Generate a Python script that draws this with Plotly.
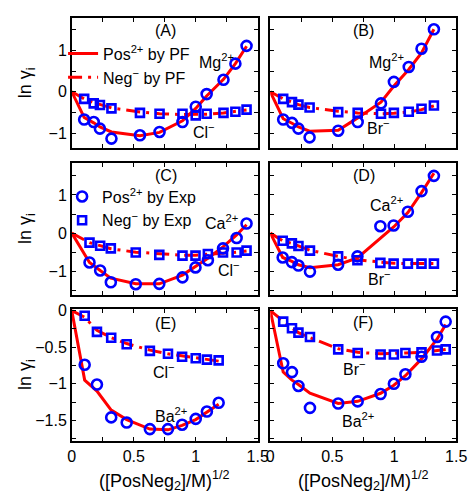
import plotly.graph_objects as go

# ---------------- data ----------------
xA = [0.1, 0.177, 0.227, 0.32, 0.55, 0.708, 0.893, 1.0, 1.088, 1.224, 1.32, 1.41]
posA = [-0.67, -0.73, -0.89, -1.13, -1.05, -0.97, -0.73, -0.36, -0.055, 0.29, 0.68, 1.11]
negA = [-0.17, -0.28, -0.32, -0.40, -0.51, -0.53, -0.53, -0.57, -0.53, -0.51, -0.48, -0.43]
pfPosA = [0, -0.62, -0.75, -0.85, -0.97, -1.06, -0.98, -0.70, -0.40, -0.10, 0.30, 0.68, 1.10]
pfNegA = [0, -0.17, -0.26, -0.31, -0.39, -0.49, -0.53, -0.55, -0.55, -0.54, -0.51, -0.48, -0.44]

xB = [0.104, 0.175, 0.227, 0.317, 0.548, 0.705, 0.893, 0.997, 1.117, 1.22, 1.32]
posB = [-0.67, -0.75, -0.89, -1.10, -0.94, -0.73, -0.28, 0.24, 0.60, 1.04, 1.51]
negB = [-0.17, -0.25, -0.31, -0.38, -0.49, -0.51, -0.53, -0.51, -0.48, -0.41, -0.33]
pfPosB = [0, -0.65, -0.76, -0.85, -0.95, -0.93, -0.63, -0.25, 0.14, 0.54, 0.94, 1.51]
pfNegB = [0, -0.17, -0.25, -0.31, -0.38, -0.47, -0.51, -0.53, -0.52, -0.49, -0.43, -0.34]

xC = [0.143, 0.229, 0.315, 0.516, 0.706, 0.893, 0.998, 1.098, 1.22, 1.33, 1.41]
posC = [-0.77, -0.98, -1.29, -1.34, -1.33, -1.16, -0.90, -0.71, -0.40, -0.13, 0.25]
negC = [-0.25, -0.33, -0.40, -0.51, -0.57, -0.59, -0.59, -0.55, -0.51, -0.51, -0.46]
pfPosC = [0, -0.77, -0.98, -1.18, -1.33, -1.33, -1.10, -0.88, -0.66, -0.36, -0.05, 0.22]
pfNegC = [0, -0.25, -0.33, -0.41, -0.50, -0.55, -0.58, -0.58, -0.56, -0.52, -0.50, -0.47]

xD = [0.1, 0.174, 0.227, 0.32, 0.547, 0.703, 0.888, 0.995, 1.11, 1.22, 1.32]
posD = [-0.64, -0.76, -0.85, -1.01, -0.83, -0.61, 0.18, 0.20, 0.56, 1.10, 1.50]
negD = [-0.20, -0.27, -0.34, -0.46, -0.61, -0.71, -0.78, -0.80, -0.80, -0.80, -0.80]
pfPosD = [0, -0.64, -0.74, -0.83, -0.91, -0.83, -0.65, -0.14, 0.16, 0.54, 1.06, 1.57]
pfNegD = [0, -0.20, -0.27, -0.34, -0.45, -0.61, -0.70, -0.76, -0.79, -0.80, -0.80, -0.80]

xE = [0.104, 0.203, 0.318, 0.443, 0.63, 0.776, 0.89, 1.0, 1.09, 1.185]
posE = [-0.74, -1.01, -1.46, -1.53, -1.62, -1.62, -1.56, -1.48, -1.38, -1.26]
negE = [-0.07, -0.29, -0.37, -0.46, -0.55, -0.59, -0.63, -0.65, -0.67, -0.68]
pfPosE = [0, -0.95, -1.10, -1.36, -1.49, -1.62, -1.63, -1.57, -1.49, -1.39, -1.28]
pfNegE = [0, -0.09, -0.27, -0.37, -0.45, -0.54, -0.59, -0.62, -0.65, -0.67, -0.69]

xF = [0.104, 0.175, 0.227, 0.32, 0.548, 0.705, 0.89, 0.997, 1.09, 1.22, 1.345, 1.415]
posF = [-0.72, -0.84, -1.03, -1.33, -1.27, -1.24, -1.14, -1.00, -0.87, -0.63, -0.36, -0.15]
negF = [-0.15, -0.24, -0.30, -0.36, -0.53, -0.58, -0.60, -0.60, -0.58, -0.57, -0.545, -0.53]
pfPosF = [0, -0.84, -0.95, -1.01, -1.13, -1.27, -1.24, -1.13, -1.02, -0.89, -0.66, -0.39, -0.19]
pfNegF = [0, -0.15, -0.24, -0.30, -0.37, -0.52, -0.57, -0.59, -0.59, -0.58, -0.57, -0.55, -0.53]

panel_labels = ["(A)", "(B)", "(C)", "(D)", "(E)", "(F)"]
xticks = [0, 0.25, 0.5, 0.75, 1.0, 1.25, 1.5]
xticktext = ["0", "", "0.5", "", "1", "", "1.5"]
yticks_top = [-1, -0.5, 0, 0.5, 1, 1.5]
yticktext_top = ["\u22121", "", "0", "", "1", ""]
yticks_mid = [-1.5, -1, -0.5, 0, 0.5, 1, 1.5]
yticktext_mid = ["", "\u22121", "", "0", "", "1", ""]
yticks_bot = [-1.75, -1.5, -1.25, -1, -0.75, -0.5, -0.25, 0]
yticktext_bot = ["", "\u22121.5", "", "\u22121", "", "\u22120.5", "", "0"]

# ------------- styling -------------
W, H = 474, 498
RED = "#ff0000"
BLUE = "#0000ff"
FONT = "Liberation Sans, Arial, Helvetica, sans-serif"
DASH = "14px,6px,3px,6px"

def px(x):
    return x / W

def py(y):
    return 1 - y / H

col_dom = [[px(70), px(262)], [px(275), px(467)]]
row_dom = [[py(143), py(11)], [py(292), py(158.5)], [py(440), py(306.5)]]
yranges = [[-1.357, 1.786], [-1.62, 1.83], [-1.78, 0.02]]

panels = [
    (xA, posA, negA, pfPosA, pfNegA),
    (xB, posB, negB, pfPosB, pfNegB),
    (xC, posC, negC, pfPosC, pfNegC),
    (xD, posD, negD, pfPosD, pfNegD),
    (xE, posE, negE, pfPosE, pfNegE),
    (xF, posF, negF, pfPosF, pfNegF),
]

fig = go.Figure()

for i, (xs, pos, neg, pfp, pfn) in enumerate(panels):
    k = "" if i == 0 else str(i + 1)
    xa, ya = "x" + k, "y" + k
    xpf = [0] + xs
    fig.add_trace(go.Scatter(x=xpf, y=pfp, mode="lines", xaxis=xa, yaxis=ya,
                             line=dict(color=RED, width=3),
                             name="Pos<sup>2+</sup> by PF", showlegend=(i == 0),
                             legend="legend"))
    fig.add_trace(go.Scatter(x=xpf, y=pfn, mode="lines", xaxis=xa, yaxis=ya,
                             line=dict(color=RED, width=3, dash=DASH),
                             name="Neg<sup>\u2212</sup> by PF", showlegend=(i == 0),
                             legend="legend"))
for i, (xs, pos, neg, pfp, pfn) in enumerate(panels):
    k = "" if i == 0 else str(i + 1)
    xa, ya = "x" + k, "y" + k
    fig.add_trace(go.Scatter(x=xs, y=pos, mode="markers", xaxis=xa, yaxis=ya,
                             marker=dict(symbol="circle-open", size=10, color=BLUE,
                                         line=dict(color=BLUE, width=2.6)),
                             name="Pos<sup>2+</sup> by Exp", showlegend=(i == 2),
                             legend="legend2"))
    fig.add_trace(go.Scatter(x=xs, y=neg, mode="markers", xaxis=xa, yaxis=ya,
                             marker=dict(symbol="square-open", size=8, color=BLUE,
                                         line=dict(color=BLUE, width=2.6)),
                             name="Neg<sup>\u2212</sup> by Exp", showlegend=(i == 2),
                             legend="legend2"))

axis_common = dict(showline=True, linecolor="black", linewidth=1.5, mirror="ticks",
                   ticks="inside", ticklen=4, tickwidth=1, tickcolor="black",
                   showgrid=False, zeroline=False,
                   tickfont=dict(family=FONT, size=16, color="black"))

layout = {}
for i in range(6):
    r, c = divmod(i, 2)
    k = "" if i == 0 else str(i + 1)
    xd = dict(axis_common, domain=col_dom[c], range=[0, 1.5], anchor="y" + k,
              tickmode="array", tickvals=xticks, ticktext=xticktext,
              showticklabels=(r == 2))
    if r == 0:
        yv, yt = yticks_top, yticktext_top
    elif r == 1:
        yv, yt = yticks_mid, yticktext_mid
    else:
        yv, yt = yticks_bot, yticktext_bot
    yd = dict(axis_common, domain=row_dom[r], range=yranges[r], anchor="x" + k,
              tickmode="array", tickvals=yv, ticktext=yt,
              showticklabels=(c == 0))
    layout["xaxis" + k] = xd
    layout["yaxis" + k] = yd
fig.update_layout(**layout)

# ------------- annotations -------------
ann = []
label_pos = [(0.758, 1.48), (0.75, 1.48), (0.758, 1.52), (0.76, 1.52), (0.758, -0.18), (0.744, -0.16)]
ion_text = [
    [("Mg<sup>2+</sup>", 1.17, 0.74), ("Cl<sup>\u2212</sup>", 1.07, -0.95)],
    [("Mg<sup>2+</sup>", 0.94, 0.74), ("Br<sup>\u2212</sup>", 0.87, -0.86)],
    [("Ca<sup>2+</sup>", 1.21, 0.30), ("Cl<sup>\u2212</sup>", 1.27, -0.95)],
    [("Ca<sup>2+</sup>", 0.94, 0.77), ("Br<sup>\u2212</sup>", 0.88, -1.18)],
    [("Cl<sup>\u2212</sup>", 0.74, -0.82), ("Ba<sup>2+</sup>", 0.80, -1.43)],
    [("Br<sup>\u2212</sup>", 0.68, -0.78), ("Ba<sup>2+</sup>", 0.71, -1.49)],
]
tfont = dict(family=FONT, size=16, color="black")
for i in range(6):
    k = "" if i == 0 else str(i + 1)
    lx, ly = label_pos[i]
    ann.append(dict(x=lx, y=ly, xref="x" + k, yref="y" + k, text=panel_labels[i],
                    showarrow=False, font=tfont))
    for t, tx, ty in ion_text[i]:
        ann.append(dict(x=tx, y=ty, xref="x" + k, yref="y" + k, text=t,
                        showarrow=False, font=tfont))

title_font = dict(family=FONT, size=18, color="black")
for yc in [77, 225, 373]:
    ann.append(dict(x=px(24), y=py(yc), xref="paper", yref="paper",
                    text="ln \u03b3<sub>i</sub>", textangle=-90, showarrow=False,
                    font=title_font, xanchor="center", yanchor="middle"))
for xc in [166, 371]:
    ann.append(dict(x=px(xc), y=py(480), xref="paper", yref="paper",
                    text="([PosNeg<sub>2</sub>]/M)<sup>1/2</sup>", showarrow=False,
                    font=title_font, xanchor="center", yanchor="middle"))

fig.update_layout(
    annotations=ann,
    width=W, height=H,
    margin=dict(l=0, r=0, t=0, b=0),
    paper_bgcolor="white", plot_bgcolor="white",
    legend=dict(x=px(61), y=py(30), xanchor="left", yanchor="top",
                bgcolor="rgba(0,0,0,0)", font=dict(family=FONT, size=16, color="black"),
                tracegroupgap=0, itemwidth=30),
    legend2=dict(x=px(60), y=py(175), xanchor="left", yanchor="top",
                 bgcolor="rgba(0,0,0,0)", font=dict(family=FONT, size=16, color="black"),
                 tracegroupgap=0, itemwidth=30),
)

fig.write_html("out.html")
